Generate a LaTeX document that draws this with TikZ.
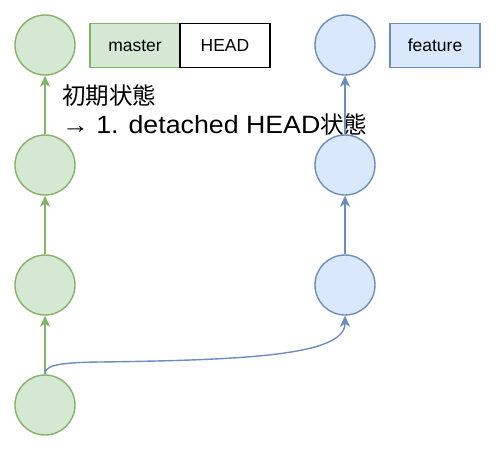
\documentclass[tikz,border=0pt]{standalone}
\usepackage{fontspec}
\setmainfont{Liberation Sans}
\newfontfamily\jp{Noto Sans CJK JP}
\newfontfamily\wide[FakeStretch=1.07]{Liberation Sans}
\usetikzlibrary{arrows.meta}
\definecolor{gfill}{HTML}{D5E8D4}
\definecolor{gline}{HTML}{82B366}
\definecolor{bfill}{HTML}{DAE8FC}
\definecolor{bline}{HTML}{6C8EBF}
\tikzset{
  gc/.style={circle,draw=gline,fill=gfill,line width=1.4pt,minimum size=60pt,inner sep=0pt},
  bc/.style={circle,draw=bline,fill=bfill,line width=1.4pt,minimum size=60pt,inner sep=0pt},
  lbl/.style={rectangle,line width=1.4pt,minimum width=90pt,minimum height=44pt,inner sep=0pt,font=\fontsize{17.5}{20}\selectfont},
  garr/.style={draw=gline,line width=1.4pt,-{Stealth[length=11pt,width=10pt,inset=3pt]}},
  barr/.style={draw=bline,line width=1.4pt,-{Stealth[length=11pt,width=10pt,inset=3pt]}},
  big/.style={anchor=base west,inner sep=0pt,font=\fontsize{25}{29}\selectfont},
}
\begin{document}
\begin{tikzpicture}[x=1pt,y=-1pt]
\useasboundingbox (0,0) rectangle (498,453);
\node[gc] (g1) at (45,45) {};
\node[gc] (g2) at (45,165) {};
\node[gc] (g3) at (45,285) {};
\node[gc] (g4) at (45,405) {};
\node[bc] (b1) at (345,45) {};
\node[bc] (b2) at (345,165) {};
\node[bc] (b3) at (345,285) {};
\node[lbl,draw=gline,fill=gfill] (master) at (135,45.5) {master};
\node[lbl,draw=black,fill=white] (head) at (225,45.5) {HEAD};
\node[lbl,draw=bline,fill=bfill] (feature) at (435,45.5) {feature};
\node[big] (txt1) at (62,104) {\jp\fontsize{23.5}{29}\selectfont 初期状態};
\node[big] (txt2) at (62,133) {\wide → 1. detached HEAD{\jp\fontsize{23.5}{29}\selectfont 状態}};
\draw[garr] (g2) -- (g1);
\draw[garr] (g3) -- (g2);
\draw[garr] (g4) -- (g3);
\draw[barr] (b2) -- (b1);
\draw[barr] (b3) -- (b2);
\coordinate (c1) at (100,362);
\draw[barr] (g4.north) .. controls (45,366) and (55,362.5) .. (c1) .. controls (250,360) and (345,355) .. (b3.south);
\end{tikzpicture}
\end{document}
